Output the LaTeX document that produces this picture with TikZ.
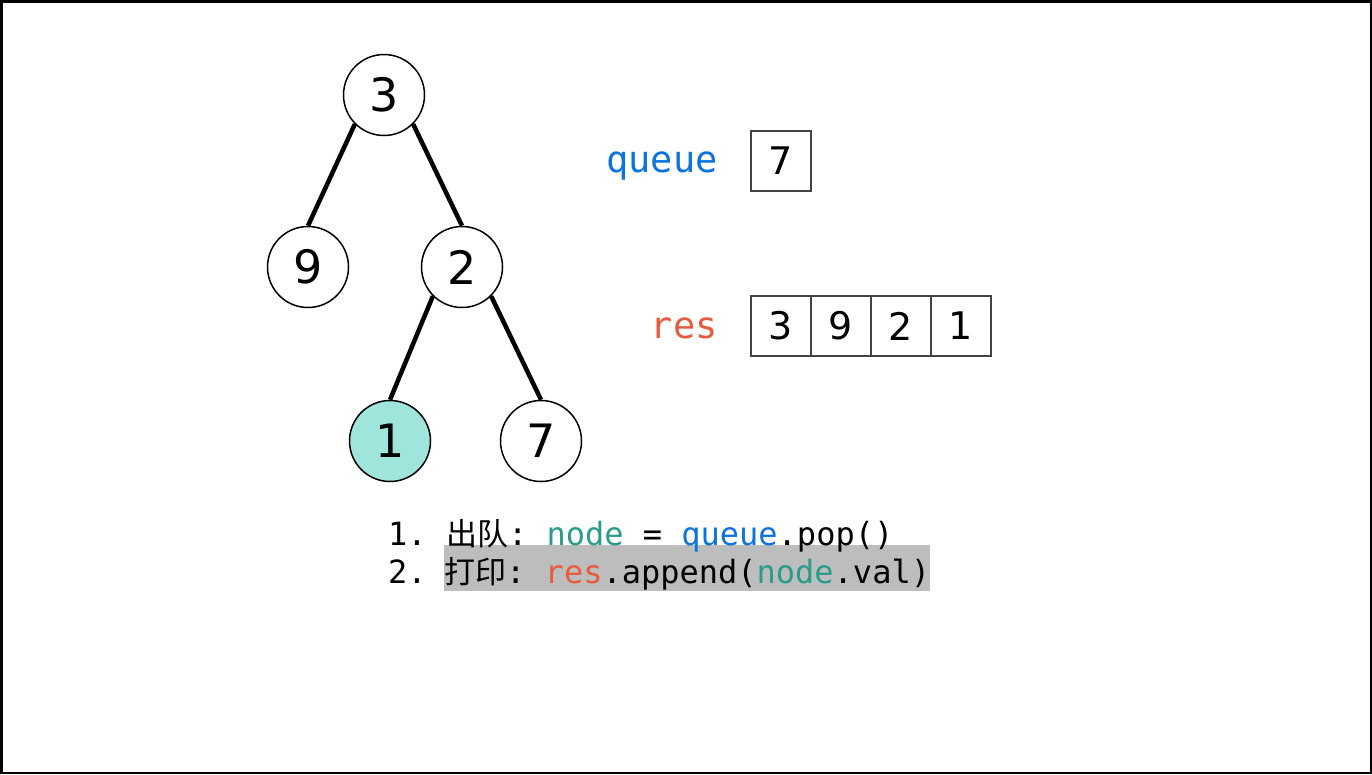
\documentclass[tikz,border=0pt]{standalone}
\usepackage{fontspec}
\setmainfont{DejaVu Sans}
\newfontfamily\mono{DejaVu Sans Mono}
\newfontfamily\cjk{Noto Sans CJK SC}
\definecolor{qblue}{HTML}{0B74DE}
\definecolor{rred}{HTML}{E65D3E}
\definecolor{nteal}{HTML}{2A9D8A}
\definecolor{hifill}{HTML}{9FE5DC}
\definecolor{hlgray}{HTML}{BDBDBD}
\definecolor{boxline}{HTML}{444444}
\newcommand{\cj}[1]{{\cjk\fontsize{31}{31}\selectfont #1}}
\begin{document}
\begin{tikzpicture}[x=1pt,y=-1pt,
  tnode/.style={circle,draw=black,line width=1.5pt,fill=white,minimum size=81pt,inner sep=0pt,font=\fontsize{46}{46}\selectfont},
  tedge/.style={line width=4.5pt},
  cell/.style={rectangle,draw=boxline,line width=1.6pt,minimum size=60pt,inner sep=0pt,font=\fontsize{38}{38}\selectfont},
  lbl/.style={anchor=base east,inner sep=0pt,font=\mono\fontsize{37}{37}\selectfont},
  code/.style={anchor=base west,inner sep=0pt,font=\mono\fontsize{32}{32}\selectfont}]
\useasboundingbox (0,0) rectangle (1372,774);
\draw[line width=2.5pt] (1.25,1.25) rectangle (1370.75,772.75);
% tree
\node[tnode] (n3) at (384,95) {3};
\node[tnode] (n9) at (308,267) {9};
\node[tnode] (n2) at (462,267) {2};
\node[tnode,fill=hifill] (n1) at (390,441) {1};
\node[tnode] (n7) at (541,441) {7};
\draw[tedge] (n3.south west) -- (n9.north);
\draw[tedge] (n3.south east) -- (n2.north);
\draw[tedge] (n2.south west) -- (n1.north);
\draw[tedge] (n2.south east) -- (n7.north);
% labels
\node[lbl,text=qblue] (lq) at (718,172) {queue};
\node[lbl,text=rred] (lr) at (718,338) {res};
% queue cells
\node[cell] (q1) at (781,161) {7};
% res cells
\node[cell] (r1) at (781,326) {3};
\node[cell] (r2) at (841,326) {9};
\node[cell] (r3) at (901,326) {2};
\node[cell] (r4) at (961,326) {1};
% code (line 2 first so its highlight lies under line 1's descenders)
\node[code] (c2a) at (388,583) {2.};
\node[code,fill=hlgray,text height=38pt,text depth=8pt] (c2b) at ([xshift=56pt]c2a.base west) {\cj{打印}:\ \textcolor{rred}{res}.append(\textcolor{nteal}{node}.val)};
\node[code] (c1) at (388,545) {1.\ \cj{出队}:\ \textcolor{nteal}{node} = \textcolor{qblue}{queue}.pop()};
\end{tikzpicture}
\end{document}
